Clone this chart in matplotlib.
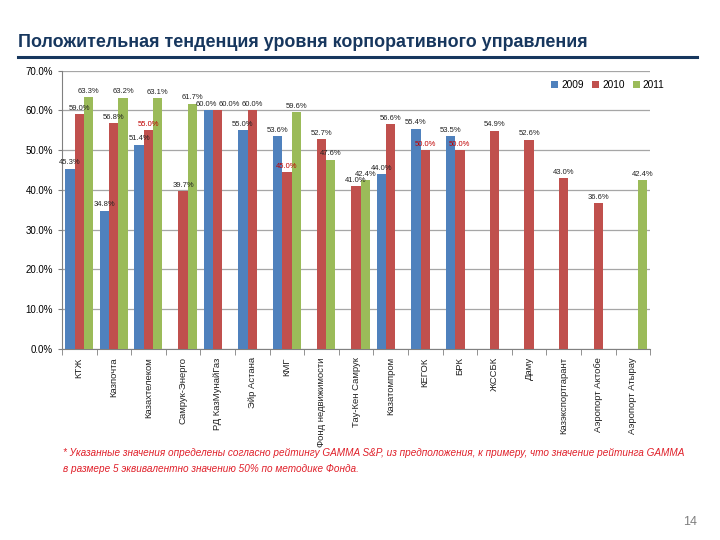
import numpy as np
import matplotlib.pyplot as plt
import matplotlib as mpl

mpl.rcParams.update({
    "font.family": ["Liberation Sans", "DejaVu Sans"],
    "axes.spines.top": False,
    "axes.spines.right": False,
})

companies = ["КТЖ", "Казпочта", "Казахтелеком", "Самрук-Энерго", "РД КазМунайГаз",
             "Эйр Астана", "КМГ", "Фонд недвижимости", "Тау-Кен Самрук", "Казатомпром",
             "КЕГОК", "БРК", "ЖССБК", "Даму", "Казэкспортгарант", "Аэропорт Актобе",
             "Аэропорт Атырау"]
nan = np.nan
v2009 = [45.3, 34.8, 51.4, nan, 60.0, 55.0, 53.6, nan, nan, 44.0, 55.4, 53.5, nan, nan, nan, nan, nan]
v2010 = [59.0, 56.8, 55.0, 39.7, 60.0, 60.0, 44.5, 52.7, 41.0, 56.6, 50.0, 50.0, 54.9, 52.6, 43.0, 36.6, nan]
v2011 = [63.3, 63.2, 63.1, 61.7, nan, nan, 59.6, 47.6, 42.4, nan, nan, nan, nan, nan, nan, nan, 42.4]
years = ["2009", "2010", "2011"]
colors = ["#4F81BD", "#C0504D", "#9BBB59"]
# labels that Excel drew in red (GAMMA-derived values)
red_labels = {(1, 2), (1, 6), (1, 10), (1, 11)}

fig = plt.figure(figsize=(7.2, 5.4), dpi=100)
ax = fig.add_axes([0.086, 0.354, 0.817, 0.515])

x = np.arange(len(companies))
bw = 0.27
for si, vals in enumerate([v2009, v2010, v2011]):
    offs = (si - 1) * bw
    ax.bar(x + offs, vals, width=bw, color=colors[si], edgecolor="none",
           label=years[si], zorder=3)
    for ci, v in enumerate(vals):
        if np.isnan(v):
            continue
        shown = 45.0 if (si == 1 and ci == 6) else v
        col = "#C00000" if (si, ci) in red_labels else "#222222"
        lx, ha = x[ci] + offs, "center"
        # the two equal labels of РД КазМунайГаз: push apart
        if ci == 4:
            lx, ha = (x[ci] - 0.02, "right") if si == 0 else (x[ci] + 0.02, "left")
        ax.text(lx, v + 0.6, f"{shown:.1f}%", ha=ha, va="bottom",
                fontsize=5.5, color=col, zorder=4)

ax.set_xlim(-0.5, len(companies) - 0.5)
ax.set_ylim(0, 70)
ax.set_yticks(np.arange(0, 71, 10))
ax.set_yticklabels([f"{t:.1f}%" for t in np.arange(0, 71, 10)], fontsize=7)
ax.yaxis.grid(True, color="#A6A6A6", linewidth=0.9, zorder=0)
ax.set_axisbelow(True)
ax.set_xticks(x)
ax.set_xticklabels(companies, rotation=90, fontsize=6.8, va="top", color="#222222")
ax.tick_params(axis="x", which="major", length=0, pad=6)
ax.set_xticks(np.arange(-0.5, len(companies), 1), minor=True)
ax.tick_params(axis="x", which="minor", length=4, color="#808080", direction="out")
ax.tick_params(axis="y", length=3, color="#808080")
ax.spines["left"].set_color("#808080")
ax.spines["bottom"].set_color("#808080")

ax.legend(loc="upper right", bbox_to_anchor=(1.04, 1.0), ncol=3, frameon=False,
          fontsize=7.3, handlelength=0.7, handleheight=0.7, handletextpad=0.3,
          columnspacing=0.8)

fig.text(0.025, 0.922, "Положительная тенденция уровня корпоративного управления",
         fontsize=12.9, fontweight="bold", color="#17375E", va="center")
fig.add_artist(plt.Line2D([0.025, 0.968], [0.894, 0.894], color="#17375E",
                          linewidth=2.2, transform=fig.transFigure))

fig.text(0.088, 0.161,
         "* Указанные значения определены согласно рейтингу GAMMA S&P, из предположения, к примеру, что значение рейтинга GAMMA",
         fontsize=7.2, style="italic", color="#E0202A", va="center")
fig.text(0.088, 0.131, "в размере 5 эквивалентно значению 50% по методике Фонда.",
         fontsize=7.2, style="italic", color="#E0202A", va="center")
fig.text(0.958, 0.033, "14", fontsize=9, color="#7F7F7F", ha="center", va="center")

fig.savefig("out.png", dpi=100)
